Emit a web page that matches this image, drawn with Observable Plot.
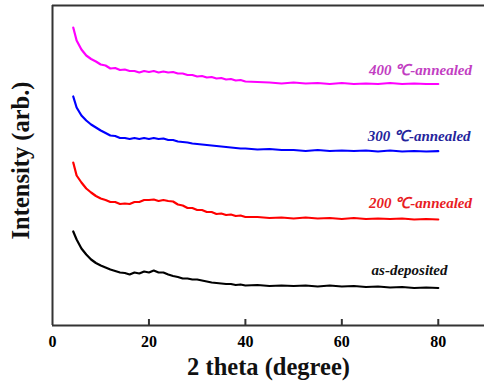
<!DOCTYPE html>
<html>
<head>
<meta charset="utf-8">
<script src="https://cdn.jsdelivr.net/npm/d3@7"></script>
<script src="https://cdn.jsdelivr.net/npm/@observablehq/plot@0.6"></script>
<style>
  body { margin: 0; background: #fff; }
  #chart svg { display: block; }
  #chart svg, #chart svg text, #chart svg g { font-family: "Liberation Serif", "Times New Roman", serif !important; }
</style>
</head>
<body>
<div id="chart"></div>
<script>
// 2 theta (degree), shared by the four scans
const theta = [4.3,
  5, 6, 7, 8, 9, 10, 11, 12, 13, 14,
  15, 16, 17, 18, 19, 20, 21, 22, 23, 24,
  25, 26, 27, 28, 29, 30, 31, 32, 33, 34,
  35, 36, 37, 38, 39, 40,
  42.5, 45, 47.5, 50, 52.5, 55, 57.5, 60,
  62.5, 65, 67.5, 70, 72.5, 75, 77.5, 80];

// intensity (arbitrary units, vertically offset)
const y400 = [298,
  285, 276, 270, 266.5, 264, 261, 260, 257, 257.5, 255.5,
  256, 254.5, 254.5, 253, 254.5, 253.5, 254.5, 253, 254, 253,
  253.5, 252, 252, 250.5, 250.5, 249, 249.5, 248, 248.5, 247,
  247.5, 246, 246.5, 245, 245.5, 244,
  243.5, 243, 242, 243, 242, 242.5, 241.5, 242.5,
  241.5, 242, 241.5, 242.5, 241.5, 242, 241.5, 241.5];

const y300 = [229,
  218, 210, 205, 201, 198, 195, 192.5, 190, 189.5, 187.5,
  187.5, 186.5, 187.5, 186.5, 187.5, 186.5, 187.5, 186.5, 187, 185.5,
  185.5, 184, 183.5, 183, 182, 181.5, 181, 180.5, 180, 179.5,
  179, 178.5, 178, 177.5, 177, 177,
  176, 176.5, 175.5, 175.5, 174.5, 175.5, 174.5, 175,
  174.5, 175, 174, 175, 174, 174.5, 174, 174.3];

const y200 = [163,
  150, 143, 137, 133, 129.5, 127, 125.5, 123.5, 123.5, 121.5,
  122, 121.5, 123.5, 123.5, 125.5, 125.5, 126, 124.5, 125.5, 124.5,
  124, 121, 120, 117.5, 117.5, 115.5, 115.5, 113.5, 113.5, 111.5,
  112, 110.5, 111, 109.5, 110, 108.5,
  108.5, 107.5, 108, 107, 108, 107, 107.5, 106.5,
  107.5, 106.5, 107, 106.5, 107, 106, 106.5, 106];

const yAs = [94,
  86, 77, 71, 66, 62.5, 60, 58, 56, 54.5, 53,
  52.5, 51, 53, 52, 54, 53, 55, 53, 53, 51,
  49.5, 48.5, 47, 47, 46, 46, 45, 44, 43, 42.5,
  42, 41.5, 41.5, 40.5, 41, 40,
  40.5, 39.5, 40, 39.5, 40, 39, 40, 39,
  39.5, 38.5, 39, 38, 38.5, 37.5, 38, 37.5];

const seriesNames = ["400 ℃-annealed", "300 ℃-annealed", "200 ℃-annealed", "as-deposited"];
const lineColors = ["#ff00ff", "#0000ff", "#ff0000", "#000000"];
const labelColors = ["#c23ec2", "#24249c", "#e81c24", "#111111"];
const labelX = [87.0, 86.7, 87.0, 81.9];
const labelY = [255, 189, 122, 55];
const xTicks = [0, 20, 40, 60, 80];

const ys = [y400, y300, y200, yAs];
const rows = [];
seriesNames.forEach((name, i) => {
  theta.forEach((xv, j) => rows.push({series: name, theta: xv, intensity: ys[i][j]}));
});
const labels = seriesNames.map((name, i) => ({series: name, x: labelX[i], y: labelY[i], color: labelColors[i]}));

const serif = "Liberation Serif, Times New Roman, serif";

const chart = Plot.plot({
  width: 484,
  height: 388,
  marginTop: 5,
  marginBottom: 63,
  marginLeft: 52,
  marginRight: 0,
  style: {fontFamily: serif, background: "#fff"},
  x: {domain: [0, 90], range: [52, 486]},
  y: {domain: [0, 320], axis: null},
  color: {domain: seriesNames, range: lineColors},
  marks: [
    Plot.line(rows, {x: "theta", y: "intensity", z: "series", stroke: "series", strokeWidth: 2.2}),
    Plot.ruleY([0], {x1: 0, x2: 90, stroke: "#333", strokeWidth: 2}),
    Plot.ruleY([320], {x1: 0, x2: 90, stroke: "#333", strokeWidth: 2}),
    Plot.ruleX([0], {y1: 0, y2: 320, stroke: "#333", strokeWidth: 2}),
    Plot.ruleX(xTicks.slice(1), {y1: 0, y2: 6, stroke: "#333", strokeWidth: 2}),
    Plot.axisX({ticks: xTicks, tickSize: 0, tickPadding: 10, fontSize: 16, fontWeight: "bold", label: null, tickFormat: d => String(d)}),
    Plot.text(labels, {x: "x", y: "y", text: "series", fill: "color", textAnchor: "end", fontSize: 15, fontWeight: "bold", fontStyle: "italic"}),
    Plot.text(["2 theta (degree)"], {frameAnchor: "bottom", dy: 49, fontSize: 24.5, fontWeight: "bold", fill: "#111"}),
    Plot.text(["Intensity (arb.)"], {frameAnchor: "left", textAnchor: "middle", dx: -31, dy: -5, rotate: -90, fontSize: 24.5, fontWeight: "bold", fill: "#111"})
  ]
});
document.getElementById("chart").appendChild(chart);
</script>
</body>
</html>
